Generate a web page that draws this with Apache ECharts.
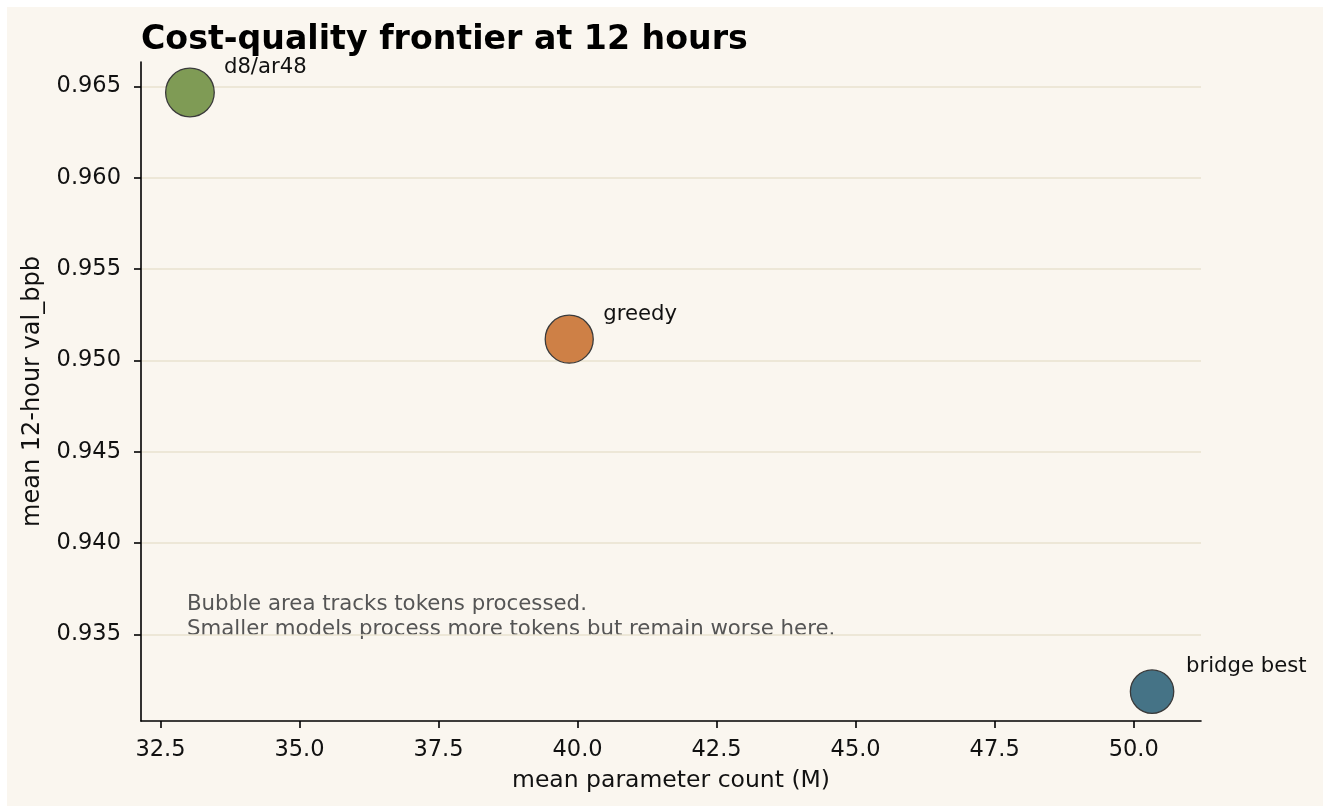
<!DOCTYPE html>
<html>
<head>
<meta charset="utf-8">
<script src="https://cdn.jsdelivr.net/npm/echarts@6/dist/echarts.min.js"></script>
<style>
  html, body { margin: 0; padding: 0; background: #ffffff; }
  #chart { position: absolute; left: 7px; top: 7px; width: 1316px; height: 799px; background: #faf6ef; }
</style>
</head>
<body>
<div id="chart"></div>
<script>
// runs at the 12-hour mark
const runNames = ['d8/ar48', 'greedy', 'bridge best']
const paramsM = [33.03, 39.85, 50.33]
const valBpb = [0.96467, 0.95117, 0.93188]
const tokensB = [2.95, 2.88, 2.35]
const runColors = ['#7f9b55', '#ce8046', '#457386']

const xTicks = [32.5, 35.0, 37.5, 40.0, 42.5, 45.0, 47.5, 50.0]
const yTicks = [0.935, 0.940, 0.945, 0.950, 0.955, 0.960, 0.965]

const noteLines = [
  'Bubble area tracks tokens processed.',
  'Smaller models process more tokens but remain worse here.'
]

const FONT = "'DejaVu Sans', sans-serif"
const chart = echarts.init(document.getElementById('chart'), null, { renderer: 'canvas' })

chart.setOption({
  backgroundColor: 'transparent',
  animation: false,
  textStyle: { fontFamily: FONT },
  title: {
    text: 'Cost-quality frontier at 12 hours',
    left: 134, top: 17, padding: 0,
    textStyle: { fontFamily: FONT, fontSize: 33.2, fontWeight: 'bold', color: '#000' }
  },
  grid: { left: 134, right: 122, top: 55, bottom: 85 },
  xAxis: {
    type: 'value', min: 32.15, max: 51.21,
    name: 'mean parameter count (M)', nameLocation: 'middle', nameGap: 48,
    nameTextStyle: { fontSize: 23.5, color: '#111', fontFamily: FONT },
    axisLine: { show: true, onZero: false, lineStyle: { color: '#000', width: 1.6 } },
    axisTick: { show: true, inside: false, length: 7, customValues: xTicks, lineStyle: { color: '#000', width: 1.6 } },
    axisLabel: { customValues: xTicks, fontSize: 22.5, color: '#111', margin: 18, formatter: v => v.toFixed(1) },
    splitLine: { show: false }
  },
  yAxis: {
    type: 'value', min: 0.93027, max: 0.96634,
    name: 'mean 12-hour val_bpb', nameLocation: 'middle', nameGap: 96,
    nameTextStyle: { fontSize: 24, color: '#111', fontFamily: FONT },
    axisLine: { show: true, onZero: false, lineStyle: { color: '#000', width: 1.6 } },
    axisTick: { show: true, inside: false, length: 7, customValues: yTicks, lineStyle: { color: '#000', width: 1.6 } },
    axisLabel: { customValues: yTicks, fontSize: 22.5, color: '#111', margin: 20, formatter: v => v.toFixed(3) },
    splitLine: { show: true, lineStyle: { color: '#e8e2cf', width: 1.5 } }
  },
  series: [{
    type: 'scatter',
    data: runNames.map((n, i) => ({
      name: n,
      value: [paramsM[i], valBpb[i], tokensB[i]],
      itemStyle: { color: runColors[i] }
    })),
    symbolSize: d => 28.3 * Math.sqrt(d[2]),
    itemStyle: { borderColor: '#3a3a3a', borderWidth: 1.3, opacity: 1 },
    label: {
      show: true, position: 'inside', align: 'left', verticalAlign: 'middle',
      offset: [34, -25], fontSize: 21.2, color: '#111', fontFamily: FONT,
      formatter: p => p.name
    },
    emphasis: { disabled: true }
  }],
  graphic: [{
    type: 'text', left: 180, top: 585,
    style: {
      text: noteLines.join('\n'), fontSize: 21.3, lineHeight: 25,
      fill: '#555', fontFamily: FONT
    }
  }]
})
</script>
</body>
</html>
